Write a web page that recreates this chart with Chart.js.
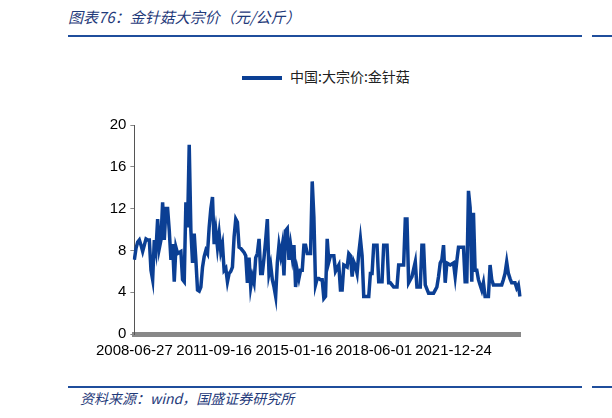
<!DOCTYPE html>
<html>
<head>
<meta charset="utf-8">
<script src="https://cdn.jsdelivr.net/npm/chart.js@4/dist/chart.umd.min.js"></script>
<style>
body { margin: 0; width: 612px; height: 418px; background: #fff; position: relative; font-family: "Noto Sans CJK SC", sans-serif; overflow: hidden; }
.title { position: absolute; left: 68px; top: 6px; font-size: 15px; font-style: italic; color: #1f3a7a; }
.rule { position: absolute; height: 2px; background: #1f4e9c; }
.legend { position: absolute; left: 242px; top: 66px; font-size: 14px; color: #222; }
.legend span { display: inline-block; width: 40px; height: 4px; background: #0b3f94; vertical-align: middle; margin-right: 8px; }
.source { position: absolute; left: 80px; top: 388px; font-size: 14px; font-style: italic; color: #1f3a7a; }
#wrap { position: absolute; left: 88px; top: 112px; width: 442px; height: 256px; }
</style>
</head>
<body>
<div class="title">图表76：金针菇大宗价（元/公斤）</div>
<div class="rule" style="left:68px; top:35px; width:514px;"></div>
<div class="rule" style="left:592px; top:35px; width:20px;"></div>
<div class="legend"><span></span>中国:大宗价:金针菇</div>
<div id="wrap"><canvas id="priceChart"></canvas></div>
<div class="rule" style="left:68px; top:386px; width:514px;"></div>
<div class="rule" style="left:592px; top:386px; width:20px;"></div>
<div class="source">资料来源：wind，国盛证券研究所</div>
<script>
// tick labels on the x axis, one every 48 points
const tickLabels = ['2008-06-27', '2011-09-16', '2015-01-16', '2018-06-01', '2021-12-24'];
const tickStep = 48;

// 金针菇大宗价 (元/公斤)
const prices = [
    7.1, 8.2, 8.8, 9.0, 8.5, 7.9, 8.5, 9.1, 9.0, 9.0, 6.1, 5.2, 9.0, 8.0, 11.0, 8.2, 9.0, 12.6, 9.0, 12.0,
    12.0, 9.9, 7.1, 8.6, 5.0, 8.3, 7.7, 7.8, 7.9, 5.2, 5.0, 12.6, 10.2, 18.1, 9.9, 6.8, 9.6, 7.1, 4.2, 4.1,
    4.5, 6.4, 7.4, 8.0, 7.7, 10.2, 12.0, 13.1, 8.6, 9.9, 8.3, 9.6, 7.9, 8.6, 6.1, 6.3, 5.0, 5.8, 6.0, 6.4,
    9.3, 11.0, 10.7, 8.3, 8.2, 8.0, 7.8, 7.5, 4.9, 7.3, 4.5, 5.5, 4.9, 7.3, 7.7, 9.1, 5.8, 5.8, 7.3, 9.0,
    11.0, 5.8, 6.6, 5.2, 4.5, 3.6, 6.8, 8.5, 7.5, 8.5, 5.6, 9.9, 10.1, 7.1, 8.5, 7.3, 8.5, 4.5, 6.1, 5.3,
    6.1, 6.1, 8.5, 8.5, 7.7, 7.7, 7.7, 14.6, 11.2, 4.7, 5.3, 5.3, 5.2, 5.2, 3.4, 3.6, 9.1, 6.9, 7.5, 7.5,
    7.5, 6.0, 6.3, 6.6, 4.2, 4.2, 6.6, 6.5, 6.4, 7.7, 7.5, 5.5, 6.9, 6.5, 5.8, 7.7, 9.1, 7.5, 3.6, 3.6,
    3.6, 3.6, 5.8, 5.8, 8.5, 8.5, 8.5, 5.0, 5.0, 5.0, 8.5, 8.5, 8.5, 4.9, 4.9, 4.7, 4.5, 4.5, 4.5, 6.6,
    6.6, 6.6, 6.6, 11.0, 11.0, 4.9, 5.2, 5.5, 6.2, 6.9, 4.5, 4.5, 4.5, 8.5, 8.5, 4.7, 4.3, 3.9, 3.9, 3.9,
    3.9, 4.2, 4.5, 5.5, 6.8, 7.1, 8.5, 4.9, 6.8, 6.7, 6.6, 6.7, 6.8, 5.5, 7.0, 8.3, 8.3, 8.3, 8.3, 5.0,
    5.0, 13.7, 12.1, 5.0, 11.6, 6.1, 6.1, 5.2, 4.7, 4.2, 4.9, 3.6, 3.6, 3.6, 6.6, 5.2, 4.7, 4.7, 4.7, 4.7,
    4.7, 4.7, 5.2, 5.8, 6.9, 5.8, 5.3, 4.9, 4.9, 4.9, 4.4, 4.7, 3.6
];

let labels = [];
for (i = 0; i < prices.length; i++) {
    labels.push(i % tickStep === 0 ? tickLabels[i / tickStep] : '');
}

const ctx = document.getElementById('priceChart');
const myChart = new Chart(ctx, {
    type: 'line',
    data: {
        labels: labels,
        datasets: [{
            label: '中国:大宗价:金针菇',
            data: prices,
            borderColor: '#0b3f94',
            borderWidth: 3.5,
            pointRadius: 0,
            tension: 0
        }]
    },
    options: {
        responsive: true,
        maintainAspectRatio: false,
        animation: false,
        layout: { padding: { left: 0, right: 10, top: 0, bottom: 0 } },
        scales: {
            x: {
                offset: false,
                grid: { display: false, drawTicks: false },
                border: { color: '#888', width: 5 },
                ticks: {
                    autoSkip: false,
                    maxRotation: 0,
                    padding: 8,
                    color: '#000',
                    font: { family: 'Liberation Sans', size: 15 },
                    callback: function(v, i) { return labels[i]; }
                }
            },
            y: {
                min: 0,
                max: 20,
                grid: { drawOnChartArea: false, tickLength: 4, color: '#888' },
                border: { color: '#555', width: 1 },
                ticks: {
                    stepSize: 2,
                    color: '#000',
                    padding: 4,
                    font: { family: 'Liberation Sans', size: 15 }
                }
            }
        },
        plugins: {
            legend: { display: false },
            tooltip: { enabled: false }
        }
    }
});
</script>
</body>
</html>
